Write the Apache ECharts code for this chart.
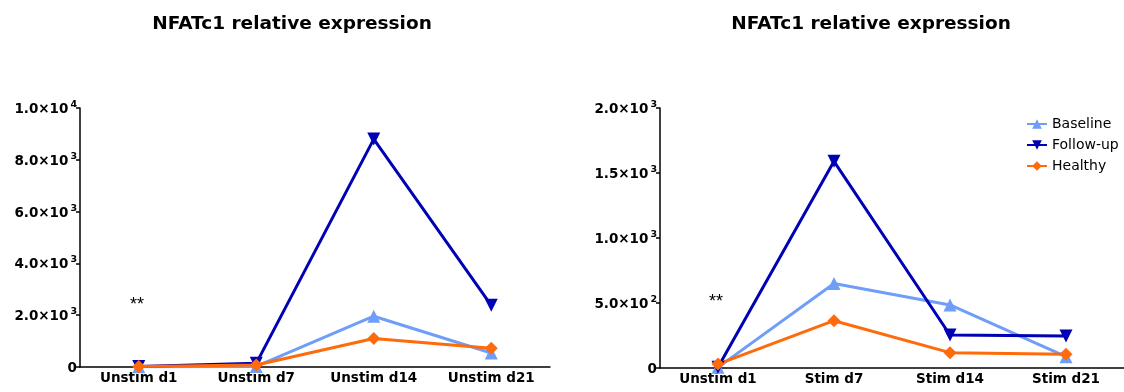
<!DOCTYPE html>
<html>
<head>
<meta charset="utf-8">
<script src="https://cdn.jsdelivr.net/npm/echarts@6/dist/echarts.min.js"></script>
<style>
  html, body { margin: 0; padding: 0; background: #fff; }
  #main { width: 1124px; height: 392px; }
</style>
</head>
<body>
<div id="main"></div>
<script>
// data
var unstimDays = ['Unstim d1', 'Unstim d7', 'Unstim d14', 'Unstim d21'];
var stimDays = ['Unstim d1', 'Stim d7', 'Stim d14', 'Stim d21'];
var unstimBaseline = [10, 20, 1960, 540];
var unstimFollowup = [20, 140, 8800, 2380];
var unstimHealthy = [20, 80, 1100, 720];
var stimBaseline = [5, 650, 485, 87];
var stimFollowup = [5, 1590, 254, 246];
var stimHealthy = [30, 364, 118, 105];
var leftTicks = { 0: '0', 2000: '2.0×10|3', 4000: '4.0×10|3', 6000: '6.0×10|3', 8000: '8.0×10|3', 10000: '1.0×10|4' };
var rightTicks = { 0: '0', 500: '5.0×10|2', 1000: '1.0×10|3', 1500: '1.5×10|3', 2000: '2.0×10|3' };

var FONT = 'DejaVu Sans';
var COL_BASE = '#6f9ef8';
var COL_FOLLOW = '#0000b4';
var COL_HEALTHY = '#ff6a0a';

var chart = echarts.init(document.getElementById('main'));

function sciLabel(map) {
    return function (v) {
        var s = map[v];
        if (s === undefined) return '';
        var p = s.split('|');
        if (p.length === 1) return '{b|' + p[0] + '}';
        return '{b|' + p[0] + '}{s|' + p[1] + '}';
    };
}

function yAxis(idx, max, interval, ticks) {
    return {
        type: 'value', gridIndex: idx, min: 0, max: max, interval: interval,
        splitLine: { show: false },
        axisLine: { show: true, lineStyle: { color: '#000', width: 1.5 } },
        axisTick: { show: true, length: 4, lineStyle: { color: '#000', width: 1.5 } },
        axisLabel: {
            margin: 3,
            formatter: sciLabel(ticks),
            rich: {
                b: { fontFamily: FONT, fontWeight: 'bold', fontSize: 13.5, lineHeight: 17, color: '#000', verticalAlign: 'bottom' },
                s: { fontFamily: FONT, fontWeight: 'bold', fontSize: 9.5, lineHeight: 11, color: '#000', verticalAlign: 'top', padding: [0, 0, 0, 2] }
            }
        }
    };
}

function xAxis(idx, cats) {
    return {
        type: 'category', gridIndex: idx, data: cats, boundaryGap: true,
        axisLine: { lineStyle: { color: '#000', width: 1.5 } },
        axisTick: { alignWithLabel: true, length: 4, lineStyle: { color: '#000', width: 1.5 } },
        axisLabel: { fontFamily: FONT, fontWeight: 'bold', fontSize: 13.5, color: '#000', margin: 4 }
    };
}

function line(name, idx, data, color, symbol, rotate) {
    return {
        name: name, type: 'line', xAxisIndex: idx, yAxisIndex: idx, data: data,
        symbol: symbol, symbolSize: 13, symbolRotate: rotate || 0,
        lineStyle: { color: color, width: 3 },
        itemStyle: { color: color },
        animation: false
    };
}

var option = {
    backgroundColor: '#fff',
    title: [
        { text: 'NFATc1 relative expression', left: 287, top: 10, textAlign: 'center',
          textStyle: { fontFamily: FONT, fontWeight: 'bold', fontSize: 18.5, color: '#000' } },
        { text: 'NFATc1 relative expression', left: 866, top: 10, textAlign: 'center',
          textStyle: { fontFamily: FONT, fontWeight: 'bold', fontSize: 18.5, color: '#000' } }
    ],
    legend: {
        orient: 'vertical', left: 1021, top: 112, itemGap: 7, itemWidth: 20, itemHeight: 12,
        textStyle: { fontFamily: FONT, fontSize: 14, color: '#000' },
        data: ['Baseline', 'Follow-up', 'Healthy']
    },
    grid: [
        { left: 80, top: 108, width: 470, height: 259 },
        { left: 660, top: 108, width: 470, height: 260 }
    ],
    xAxis: [xAxis(0, unstimDays), xAxis(1, stimDays)],
    yAxis: [yAxis(0, 10000, 2000, leftTicks), yAxis(1, 2000, 500, rightTicks)],
    graphic: [
        { type: 'text', left: 130, top: 296, style: { text: '**', fontFamily: 'Liberation Sans', fontSize: 18, fill: '#000' } },
        { type: 'text', left: 709, top: 293, style: { text: '**', fontFamily: 'Liberation Sans', fontSize: 18, fill: '#000' } }
    ],
    series: [
        line('Baseline', 0, unstimBaseline, COL_BASE, 'triangle'),
        line('Follow-up', 0, unstimFollowup, COL_FOLLOW, 'triangle', 180),
        line('Healthy', 0, unstimHealthy, COL_HEALTHY, 'diamond'),
        line('Baseline', 1, stimBaseline, COL_BASE, 'triangle'),
        line('Follow-up', 1, stimFollowup, COL_FOLLOW, 'triangle', 180),
        line('Healthy', 1, stimHealthy, COL_HEALTHY, 'diamond')
    ]
};
chart.setOption(option);
</script>
</body>
</html>
